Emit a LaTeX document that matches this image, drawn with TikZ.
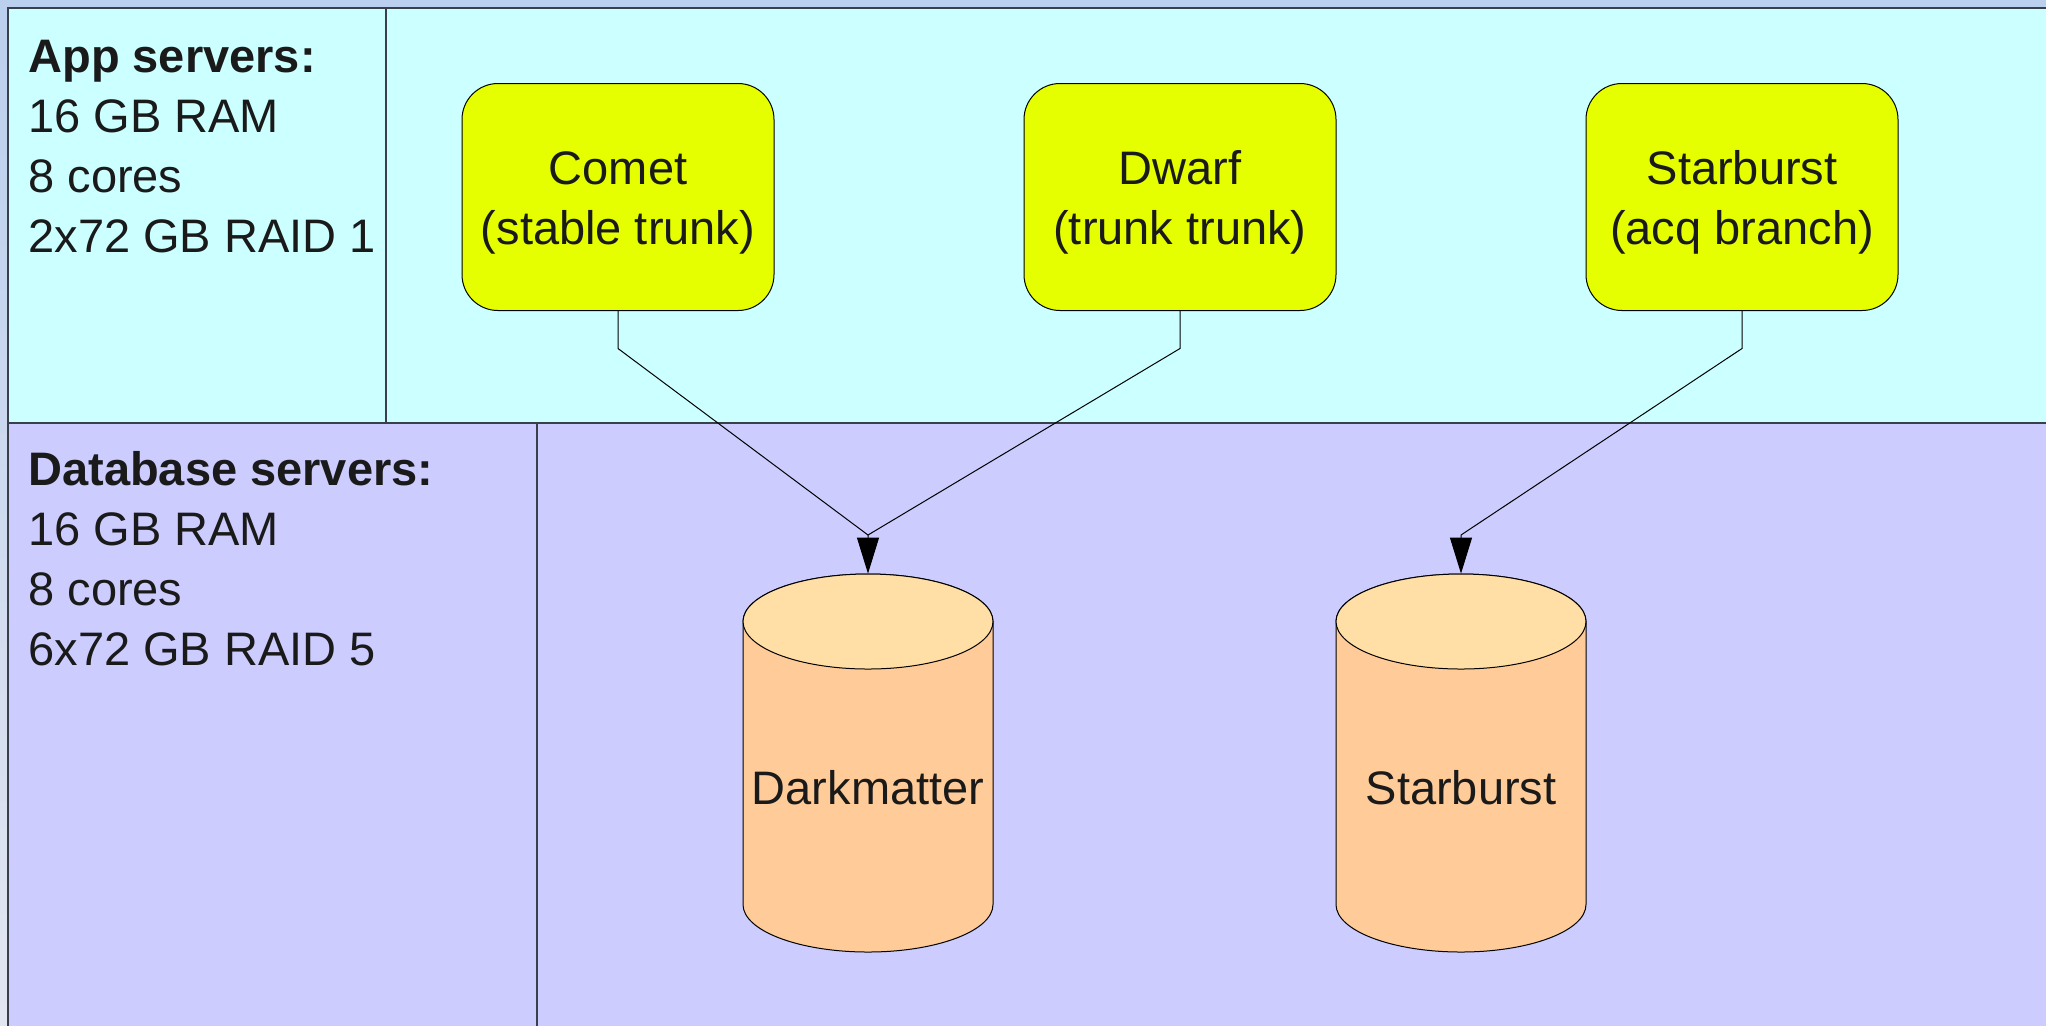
\documentclass[tikz,border=0pt]{standalone}
\usepackage{fontspec}
\setmainfont{Liberation Sans}
\usetikzlibrary{arrows.meta}
\definecolor{appfill}{HTML}{CCFFFF}
\definecolor{dbfill}{HTML}{CCCCFF}
\definecolor{boxfill}{HTML}{E5FF00}
\definecolor{cylbody}{HTML}{FFCC99}
\definecolor{cyltop}{HTML}{FFDFA6}
\definecolor{txt}{HTML}{1A1A1A}
\definecolor{edge}{HTML}{3A3F4C}
\definecolor{bgtop}{HTML}{BBCFEE}
\definecolor{bgbot}{HTML}{E2E6F0}
\newcommand\dbcyl[1]{%
  \filldraw[cylline, fill=cylbody] ({#1-125},621.5) -- ({#1-125},904.5)
    arc[start angle=180,end angle=360,x radius=62.5pt,y radius=23.75pt]
    -- ({#1+125},621.5)
    arc[start angle=0,end angle=180,x radius=62.5pt,y radius=23.75pt] -- cycle;
  \filldraw[cylline, fill=cyltop] (#1,621.5) ellipse[x radius=62.5pt,y radius=23.75pt];
}
\newcommand\toppad{\rule{0pt}{22pt}}
\begin{document}
\begin{tikzpicture}[x=0.5pt,y=-0.5pt,
  bigfont/.style={font=\fontsize{23.5pt}{30pt}\selectfont, text=txt},
  region/.style={draw=edge, line width=0.7pt},
  appbox/.style={bigfont, draw=black, line width=0.5pt, fill=boxfill,
    rounded corners=18pt, minimum width=156pt, minimum height=113.5pt,
    align=center, inner sep=0pt},
  lbl/.style={bigfont, anchor=base west, inner sep=0pt},
  cylline/.style={draw=black, line width=0.5pt},
  cylnode/.style={draw=none, inner sep=0pt, minimum width=125pt, minimum height=189pt},
  cyltext/.style={bigfont, inner sep=0pt},
  conn/.style={draw=black, line width=0.5pt},
  arr/.style={conn, -{Triangle[length=18pt,width=11pt]}}
]
\useasboundingbox (0,0) rectangle (2046,1025);
\clip (0,0) rectangle (2046,1025);
\shade[top color=bgtop, bottom color=bgbot] (0,0) rectangle (2046,1025);
% regions
\filldraw[region, fill=appfill] (8,8) rectangle (2070,423);
\filldraw[region, fill=dbfill] (8,423) rectangle (2070,1050);
\draw[region] (386,8) -- (386,423);
\draw[region] (537,423) -- (537,1050);
% left labels
\node[lbl] (a1) at (28,72) {\bfseries App servers:};
\node[lbl] (a2) at (28,132) {16 GB RAM};
\node[lbl] (a3) at (28,192) {8 cores};
\node[lbl] (a4) at (28,252) {2x72 GB RAID 1};
\node[lbl] (d1) at (28,485) {\bfseries Database servers:};
\node[lbl] (d2) at (28,545) {16 GB RAM};
\node[lbl] (d3) at (28,605) {8 cores};
\node[lbl] (d4) at (28,665) {6x72 GB RAID 5};
% app server boxes
\node[appbox] (comet) at (618,197) {\toppad Comet\\(stable trunk)};
\node[appbox] (dwarf) at (1180,197) {\toppad Dwarf\\(trunk trunk)};
\node[appbox] (star) at (1742,197) {\toppad Starburst\\(acq branch)};
% database cylinders
\dbcyl{868}
\dbcyl{1461}
\node[cylnode] (dm) at (868,763) {};
\node[cylnode] (sb) at (1461,763) {};
\node[cyltext] (dmlbl) at (868,788) {Darkmatter};
\node[cyltext] (sblbl) at (1461,788) {Starburst};
% connectors
\coordinate (dmin) at (868,535);
\coordinate (sbin) at (1461,535);
\draw[arr] (comet.south) -- ++(0,37.5) -- (dmin) -- (dm.north);
\draw[conn] (dwarf.south) -- ++(0,37.5) -- (dmin);
\draw[arr] (star.south) -- ++(0,37.5) -- (sbin) -- (sb.north);
\end{tikzpicture}
\end{document}
